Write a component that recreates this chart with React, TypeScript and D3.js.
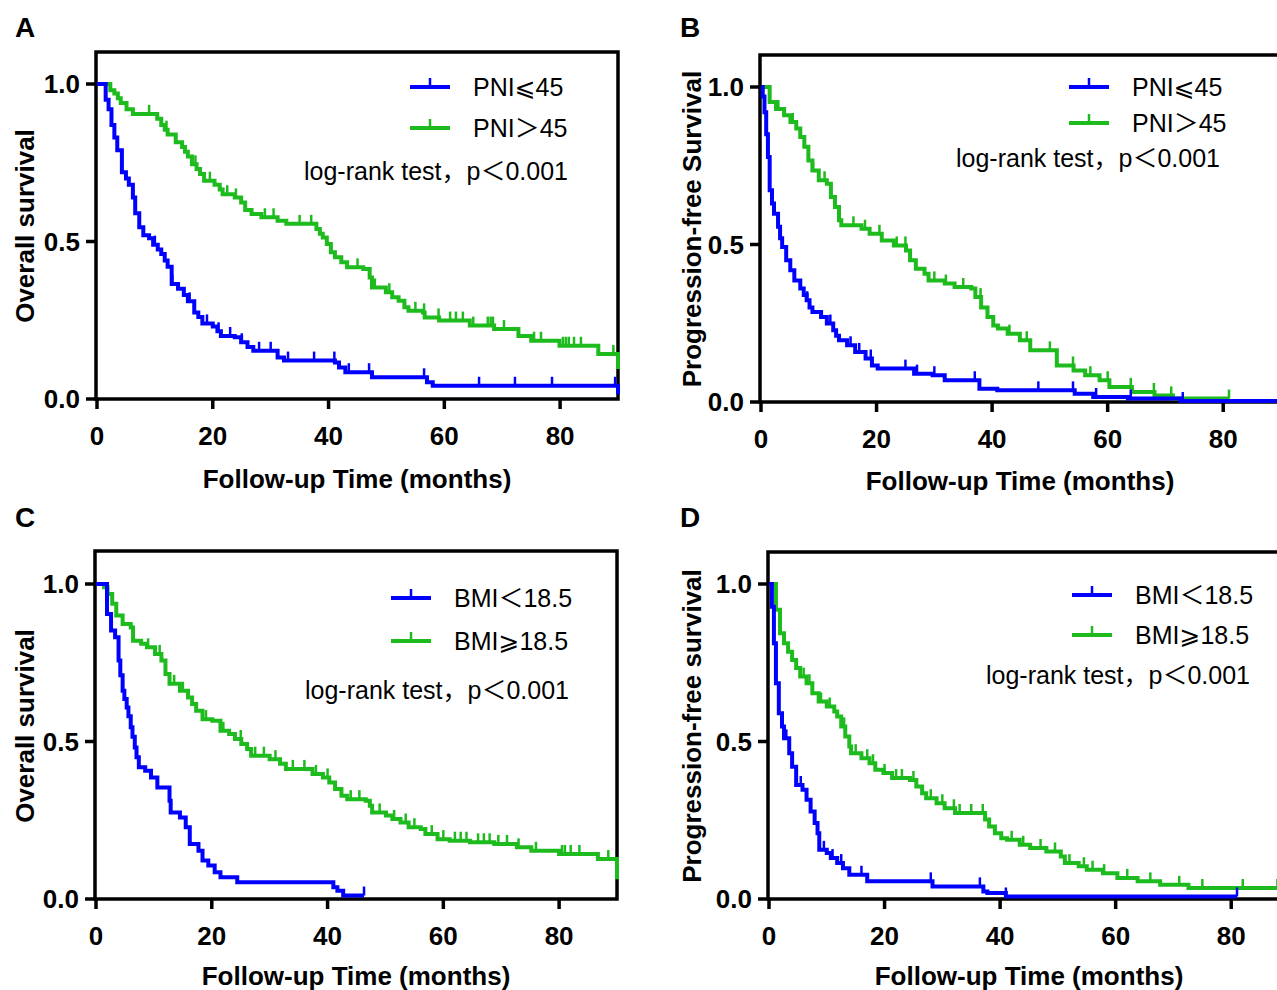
import React from "react";
import * as d3 from "d3";

type Pt = [number, number];

// ---- Panel A: Overall survival by PNI ----
const A_lowEvents: Pt[] = [[1.5,0.95],[2,0.92],[2.5,0.87],[3,0.83],[3.5,0.79],[4.3,0.72],[5,0.7],[5.5,0.68],[6.2,0.64],[6.6,0.59],[7.3,0.545],[8,0.52],[9,0.51],[9.7,0.49],[10.5,0.475],[11.1,0.46],[11.7,0.44],[12.2,0.42],[12.9,0.365],[14,0.35],[15,0.33],[15.7,0.31],[16.8,0.275],[17.5,0.26],[18.2,0.24],[20,0.23],[20.8,0.215],[21.4,0.2],[23.8,0.196],[24.9,0.18],[26,0.165],[27,0.153],[31.2,0.132],[32.3,0.122],[41.1,0.116],[41.8,0.1],[42.9,0.085],[47.5,0.069],[57,0.053],[58,0.042],[90,0.015]];
const A_lowCensor: number[] = [10,13,16,19,21,23,25,28,30,33,37.5,41,43.5,47,56.5,66,72.2,78.6,89.5];
const A_highEvents: Pt[] = [[2.3,0.98],[3,0.97],[3.6,0.955],[4.1,0.94],[5.1,0.92],[6.2,0.905],[10.4,0.89],[11.1,0.87],[11.7,0.855],[12.2,0.84],[13.6,0.815],[14.7,0.8],[15.2,0.785],[15.7,0.77],[16.4,0.745],[17.2,0.73],[17.8,0.714],[18.5,0.693],[20.3,0.68],[21.2,0.665],[21.7,0.65],[23.8,0.64],[24.9,0.624],[25.6,0.6],[26.7,0.587],[28.4,0.577],[31.2,0.566],[32.7,0.556],[37.9,0.54],[38.5,0.525],[39,0.513],[39.7,0.492],[40.4,0.466],[41.1,0.45],[42.2,0.434],[43.2,0.418],[46,0.413],[47.1,0.386],[47.5,0.354],[49.9,0.339],[51,0.323],[52.1,0.312],[53.1,0.291],[53.8,0.28],[56.3,0.275],[56.6,0.259],[59.1,0.249],[64.4,0.233],[68.6,0.222],[72.8,0.2],[75,0.185],[79.9,0.169],[86.6,0.143],[90,0.095]];
const A_highCensor: number[] = [9,12,17,19.5,22.5,24,29,30.5,35,37,45,48,50.5,55,56.5,59,61,62,63.2,65,67.5,68,68.4,70.3,75.5,76.7,80.5,81,81.5,82.4,83.6,89.2];

// ---- Panel B: Progression-free survival by PNI ----
const B_lowEvents: Pt[] = [[0.3,0.97],[0.6,0.92],[0.9,0.85],[1.2,0.778],[1.5,0.672],[1.9,0.63],[2.25,0.598],[2.95,0.556],[3.3,0.52],[3.66,0.492],[4.36,0.45],[5.07,0.418],[5.77,0.386],[6.8,0.36],[7.4,0.34],[7.9,0.323],[8.4,0.3],[8.9,0.286],[10.4,0.27],[11.4,0.249],[12.5,0.228],[13,0.21],[13.5,0.196],[14.9,0.18],[16.3,0.159],[18.1,0.138],[19.2,0.116],[20.2,0.106],[26.5,0.09],[29.7,0.085],[31.8,0.069],[37.8,0.042],[40.9,0.037],[54.3,0.026],[57.5,0.016],[63.5,0.011],[72.6,0.003]];
const B_lowCensor: number[] = [8,12,15.5,17,19,25,27,30,37,48,54,58,64,73];
const B_highEvents: Pt[] = [[1.5,0.952],[2.6,0.93],[4,0.91],[5.1,0.889],[6.1,0.868],[6.8,0.841],[7.5,0.81],[8.2,0.767],[8.9,0.735],[10,0.704],[11.4,0.693],[12.1,0.651],[12.8,0.619],[13.5,0.577],[13.9,0.561],[17.4,0.55],[18.8,0.534],[20.9,0.513],[23,0.497],[25.1,0.481],[25.8,0.45],[26.8,0.423],[28.3,0.407],[29,0.386],[31.8,0.376],[33.5,0.365],[36.4,0.36],[37.1,0.333],[38.1,0.3],[39.2,0.27],[40.2,0.243],[41,0.233],[42.7,0.217],[44.8,0.196],[46.6,0.164],[51.2,0.116],[54.1,0.1],[56.1,0.085],[58.6,0.069],[60.3,0.048],[64.2,0.032],[68.1,0.021],[71.3,0.011]];
const B_highCensor: number[] = [3,5.5,9,11,16,18,20.5,23.5,25,30,32,35,38,43,46,50,54,57,60,64,68,71,81];

// ---- Panel C: Overall survival by BMI ----
const C_lowEvents: Pt[] = [[1.9,0.905],[2.6,0.852],[3.3,0.831],[3.9,0.757],[4.2,0.71],[4.6,0.661],[4.9,0.635],[5.3,0.608],[5.6,0.58],[6,0.545],[6.3,0.515],[6.7,0.481],[7,0.45],[7.4,0.418],[8.5,0.407],[9.5,0.386],[10.6,0.354],[12.7,0.312],[12.9,0.275],[14.5,0.259],[15.5,0.228],[16.2,0.175],[17.7,0.153],[18.4,0.122],[19.4,0.106],[20.5,0.085],[21.5,0.069],[24.4,0.053],[41,0.037],[41.7,0.026],[42.7,0.011]];
const C_lowCensor: number[] = [46.3];
const C_highEvents: Pt[] = [[1.4,0.99],[2,0.968],[2.8,0.937],[3.5,0.9],[4.6,0.873],[6,0.862],[6.4,0.82],[7.8,0.81],[8.8,0.799],[10.2,0.778],[11.3,0.757],[12,0.714],[12.7,0.683],[14.5,0.661],[15.9,0.64],[16.6,0.619],[17.3,0.598],[18.4,0.571],[20.1,0.566],[21.5,0.534],[23,0.524],[24,0.508],[25.1,0.492],[26.1,0.476],[26.8,0.455],[30,0.444],[31.8,0.429],[32.8,0.413],[37.4,0.397],[39.2,0.386],[40.3,0.37],[41.3,0.349],[42.4,0.328],[43.4,0.317],[46.6,0.312],[47.3,0.296],[47.7,0.275],[50.1,0.265],[51.2,0.254],[52.6,0.243],[54,0.228],[56.1,0.222],[56.9,0.206],[59,0.19],[61.1,0.185],[64.6,0.18],[68.8,0.175],[72.7,0.164],[75.2,0.153],[80,0.143],[86.7,0.127],[90,0.063]];
const C_highCensor: number[] = [9,11,13.5,15,19,22,25,27.5,29,31,34,36,38,40,44,45.5,49,51.5,53.5,55,58,60,62,63,64,66,67,68,69.5,71,73,76,80.5,81,82,83.5,88.5];

// ---- Panel D: Progression-free survival by BMI ----
const D_lowEvents: Pt[] = [[0.5,0.928],[0.85,0.812],[1.2,0.685],[1.7,0.59],[2.25,0.548],[2.6,0.51],[3.5,0.463],[4,0.42],[4.7,0.362],[5.8,0.347],[6.5,0.315],[7.2,0.278],[7.9,0.241],[8.4,0.209],[8.7,0.156],[10,0.146],[10.7,0.13],[11.8,0.114],[12.8,0.098],[13.9,0.077],[17,0.056],[28.3,0.04],[37.1,0.024],[37.8,0.019],[41,0.008]];
const D_lowCensor: number[] = [3,5.5,9.5,11,12.5,16,28,36.5,41,81];
const D_highEvents: Pt[] = [[1.2,0.918],[1.9,0.844],[2.6,0.812],[3.3,0.785],[4,0.759],[4.7,0.733],[5.4,0.706],[6.5,0.685],[7.5,0.653],[8.6,0.627],[10,0.611],[11.3,0.595],[11.8,0.579],[12.5,0.548],[13.2,0.516],[13.9,0.484],[14.2,0.463],[16,0.447],[17.4,0.431],[18.4,0.41],[19.8,0.4],[21.3,0.384],[24.4,0.378],[25.5,0.357],[26.5,0.336],[27.2,0.32],[29,0.304],[30.4,0.288],[32.2,0.273],[37.4,0.252],[38.1,0.23],[39.1,0.209],[40.2,0.193],[41.2,0.188],[43.4,0.172],[45.2,0.162],[48,0.151],[50.5,0.135],[51.2,0.114],[53.6,0.104],[55,0.093],[57.8,0.082],[60.3,0.067],[63.8,0.056],[67.7,0.045],[72.6,0.035]];
const D_highCensor: number[] = [6,7,9,10.5,13,15,17,18,20,22,23,25,28,30,32,33,35,37,42,44,47,49.5,52,54.5,56,58,62,66,71,75,82,88];

const xTicks = [0, 20, 40, 60, 80];
const yTicks = [0, 0.5, 1.0];
const pniLabels = ["PNI⩽45", "PNI＞45"];
const bmiLabels = ["BMI＜18.5", "BMI⩾18.5"];
const testLabel = "log-rank test，p＜0.001";

const BLUE = "#0000FF";
const GREEN = "#1DBB1D";
const FONT = "'Liberation Sans', Arial, 'Noto Sans CJK SC', 'DejaVu Sans', sans-serif";

interface Curve { events: Pt[]; censor: number[]; end: number; color: string; }
interface Panel {
  letter: string; lx: number; ly: number;
  left: number; right: number; top: number; bottom: number; y1: number;
  yTitle: string; yTitleX: number; yTitleY: number; xTitleX: number; xTitleY: number;
  curves: Curve[]; labels: string[];
  legLineX: number; legTextX: number; legY: number[]; testEndX: number; testY: number;
}

const panels: Panel[] = [
  { letter: "A", lx: 15, ly: 37, left: 96, right: 618, top: 52, bottom: 399, y1: 84,
    yTitle: "Overall survival", yTitleX: 34, yTitleY: 226, xTitleX: 357, xTitleY: 488,
    curves: [
      { events: A_highEvents, censor: A_highCensor, end: 90, color: GREEN },
      { events: A_lowEvents, censor: A_lowCensor, end: 90, color: BLUE },
    ], labels: pniLabels, legLineX: 410, legTextX: 473, legY: [87, 128], testEndX: 568, testY: 180 },
  { letter: "B", lx: 680, ly: 37, left: 760, right: 1281, top: 55, bottom: 402, y1: 87,
    yTitle: "Progression-free Survival", yTitleX: 701, yTitleY: 229, xTitleX: 1020, xTitleY: 490,
    curves: [
      { events: B_highEvents, censor: B_highCensor, end: 81, color: GREEN },
      { events: B_lowEvents, censor: B_lowCensor, end: 90, color: BLUE },
    ], labels: pniLabels, legLineX: 1069, legTextX: 1132, legY: [87, 123], testEndX: 1220, testY: 167 },
  { letter: "C", lx: 15, ly: 527, left: 95, right: 617, top: 551, bottom: 899, y1: 584,
    yTitle: "Overall survival", yTitleX: 34, yTitleY: 726, xTitleX: 356, xTitleY: 985,
    curves: [
      { events: C_highEvents, censor: C_highCensor, end: 90, color: GREEN },
      { events: C_lowEvents, censor: C_lowCensor, end: 46.3, color: BLUE },
    ], labels: bmiLabels, legLineX: 391, legTextX: 454, legY: [598, 641], testEndX: 569, testY: 699 },
  { letter: "D", lx: 680, ly: 527, left: 768, right: 1289, top: 552, bottom: 899, y1: 584,
    yTitle: "Progression-free survival", yTitleX: 701, yTitleY: 726, xTitleX: 1029, xTitleY: 985,
    curves: [
      { events: D_highEvents, censor: D_highCensor, end: 90, color: GREEN },
      { events: D_lowEvents, censor: D_lowCensor, end: 81, color: BLUE },
    ], labels: bmiLabels, legLineX: 1072, legTextX: 1135, legY: [595, 635], testEndX: 1250, testY: 684 },
];

function survAt(events: Pt[], t: number): number {
  let s = 1;
  for (const [et, es] of events) { if (et <= t) s = es; else break; }
  return s;
}

function PanelView({ p }: { p: Panel }) {
  const x = d3.scaleLinear().domain([0, 90]).range([p.left + 1, p.right]);
  const y = d3.scaleLinear().domain([0, 1]).range([p.bottom, p.y1]);
  const line = d3.line<Pt>().x(d => x(d[0])).y(d => y(d[1])).curve(d3.curveStepAfter);
  const sw = 3.5;
  return (
    <g>
      <text x={p.lx} y={p.ly} fontFamily={FONT} fontWeight="bold" fontSize={28}>{p.letter}</text>
      <rect x={p.left} y={p.top} width={p.right - p.left} height={p.bottom - p.top} fill="none" stroke="#000" strokeWidth={sw} />
      {xTicks.map(t => (
        <g key={"x" + t}>
          <line x1={x(t)} x2={x(t)} y1={p.bottom} y2={p.bottom + 10} stroke="#000" strokeWidth={sw} />
          <text x={x(t)} y={p.bottom + 46} textAnchor="middle" fontFamily={FONT} fontWeight="bold" fontSize={26}>{t}</text>
        </g>
      ))}
      {yTicks.map(t => (
        <g key={"y" + t}>
          <line x1={p.left - 10} x2={p.left} y1={y(t)} y2={y(t)} stroke="#000" strokeWidth={sw} />
          <text x={p.left - 16} y={y(t) + 9} textAnchor="end" fontFamily={FONT} fontWeight="bold" fontSize={26}>{t.toFixed(1)}</text>
        </g>
      ))}
      <text transform={`translate(${p.yTitleX},${p.yTitleY}) rotate(-90)`} textAnchor="middle" fontFamily={FONT} fontWeight="bold" fontSize={26}>{p.yTitle}</text>
      <text x={p.xTitleX} y={p.xTitleY} textAnchor="middle" fontFamily={FONT} fontWeight="bold" fontSize={26}>Follow-up Time (months)</text>
      {p.curves.map((c, i) => {
        const pts: Pt[] = [[0, 1], ...c.events, [c.end, survAt(c.events, c.end)]];
        return (
          <g key={"c" + i}>
            <path d={line(pts) || ""} fill="none" stroke={c.color} strokeWidth={4} />
            {c.censor.map((t, j) => (
              <line key={j} x1={x(t)} x2={x(t)} y1={y(survAt(c.events, t))} y2={y(survAt(c.events, t)) - 9} stroke={c.color} strokeWidth={2.5} />
            ))}
          </g>
        );
      })}
      {p.labels.map((lab, i) => {
        const col = i === 0 ? BLUE : GREEN;
        const ly = p.legY[i];
        return (
          <g key={"l" + i}>
            <line x1={p.legLineX} x2={p.legLineX + 40} y1={ly} y2={ly} stroke={col} strokeWidth={4} />
            <line x1={p.legLineX + 20} x2={p.legLineX + 20} y1={ly} y2={ly - 9} stroke={col} strokeWidth={2.5} />
            <text x={p.legTextX} y={ly + 9} fontFamily={FONT} fontSize={25}>{lab}</text>
          </g>
        );
      })}
      <text x={p.testEndX} y={p.testY} textAnchor="end" fontFamily={FONT} fontSize={25}>{testLabel}</text>
    </g>
  );
}

export default function App() {
  return (
    <svg width={1277} height={990} style={{ position: "absolute", left: 0, top: 0, background: "#fff" }}>
      <rect x={0} y={0} width={1277} height={990} fill="#fff" />
      {panels.map(p => <PanelView key={p.letter} p={p} />)}
    </svg>
  );
}
